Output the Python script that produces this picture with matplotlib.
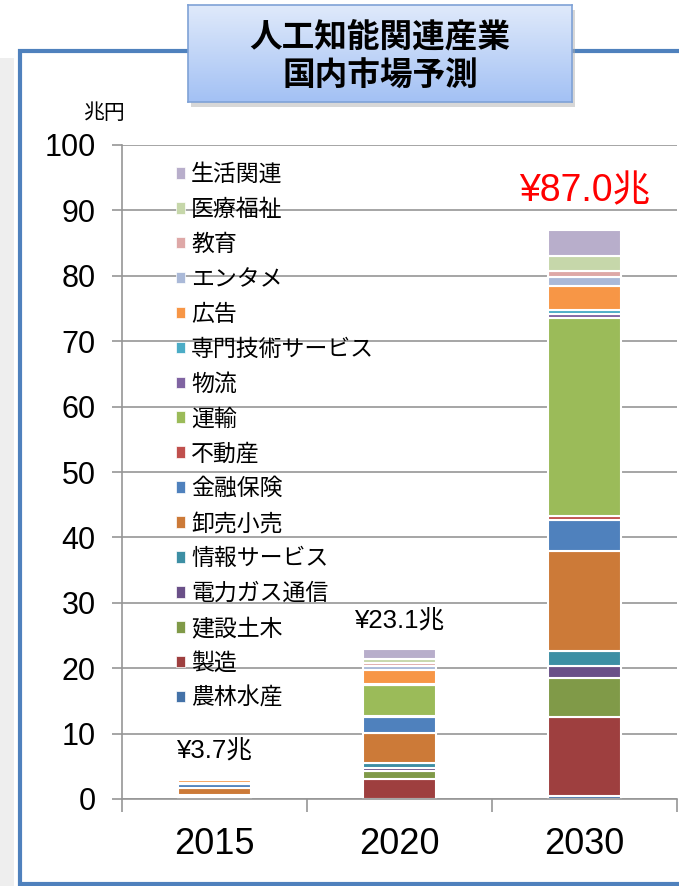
import numpy as np
import matplotlib
matplotlib.use('Agg')
import matplotlib.pyplot as plt
from matplotlib.patches import Patch, Rectangle
from matplotlib.colors import LinearSegmentedColormap

plt.rcParams['font.family'] = ['Liberation Sans', 'Noto Sans CJK JP']

#------------------------------------------------------------------------------
# Data (兆円)
#------------------------------------------------------------------------------
years = ['2015', '2020', '2030']
totals = ['¥3.7兆', '¥23.1兆', '¥87.0兆']
industries = ['農林水産', '製造', '建設土木', '電力ガス通信', '情報サービス',
              '卸売小売', '金融保険', '不動産', '運輸', '物流',
              '専門技術サービス', '広告', 'エンタメ', '教育', '医療福祉', '生活関連']
v2015 = [0.1, 0.25, 0.1, 0.05, 0.1, 1.05, 0.6, 0.05, 0.1, 0.02,
         0.05, 0.4, 0.05, 0.02, 0.05, 0.05]
v2020 = [0.05, 3.0, 1.2, 0.5, 0.8, 4.6, 2.4, 0.1, 4.8, 0.05,
         0.1, 2.1, 0.6, 0.5, 0.6, 1.5]
v2030 = [0.4, 12.2, 5.9, 1.9, 2.3, 15.2, 4.7, 0.6, 30.4, 0.5,
         0.7, 3.6, 1.4, 1.0, 2.2, 4.0]

colors = ['#4472a8', '#9e3f3f', '#809a48', '#6a5088', '#3d8fa4',
          '#cc7a38', '#4f81bd', '#c0504d', '#9bbb59', '#8064a2',
          '#4bacc6', '#f79646', '#aab9d8', '#dea8a7', '#c6d7aa', '#b8aecb']

W, H = 679, 886
fig = plt.figure(figsize=(W / 100, H / 100), dpi=100)

#------------------------------------------------------------------------------
# Background decoration: side shadow and blue frame
#------------------------------------------------------------------------------
fig.patches.append(Rectangle((0, 0), 14 / W, 1 - 58 / H, transform=fig.transFigure,
                             facecolor='#eeeeee', edgecolor='none', zorder=0))
fig.patches.append(Rectangle((20 / W, 2 / H), 1.1, 1 - 53 / H, transform=fig.transFigure,
                             facecolor='white', edgecolor='#4f81bd', linewidth=3, zorder=1))

#------------------------------------------------------------------------------
# Chart
#------------------------------------------------------------------------------
ax = fig.add_axes([122 / W, 1 - 799 / H, 555 / W, 654 / H])
ax.set_zorder(2)
ax.patch.set_alpha(0)
data = np.array([v2015, v2020, v2030])
x = np.arange(len(years))
bottom = np.zeros(len(years))
handles = []
for i, name in enumerate(industries):
    ax.bar(x, data[:, i], 0.39, bottom=bottom, color=colors[i],
           edgecolor='white', linewidth=1.5)
    bottom += data[:, i]
    handles.append(Patch(facecolor=colors[i], edgecolor='white', linewidth=0.5, label=name))

label_size = [18.5, 18.5, 27]
label_color = ['black', 'black', '#ff0000']
label_off = [20, 20, 28]
for i in range(len(years)):
    ax.annotate(totals[i], (x[i], bottom[i]), xytext=(0, label_off[i]),
                textcoords='offset points', ha='center', va='center',
                fontsize=label_size[i], color=label_color[i])

ax.set_xlim(-0.5, 2.5)
ax.set_ylim(0, 100)
ax.set_yticks(np.arange(0, 101, 10))
ax.set_xticks(x)
ax.set_xticklabels(years)
ax.set_xticks([-0.5, 0.5, 1.5, 2.5], minor=True)
ax.tick_params(axis='y', direction='out', length=7, width=1.2, color='#969696',
               labelsize=22, pad=12)
ax.tick_params(axis='x', which='major', length=0, labelsize=26, pad=20)
ax.tick_params(axis='x', which='minor', direction='out', length=9, width=1.2, color='#969696')
ax.set_axisbelow(True)
ax.yaxis.grid(True, color='#969696', linewidth=1.2)
for s in ['top', 'right']:
    ax.spines[s].set_visible(False)
for s in ['left', 'bottom']:
    ax.spines[s].set_color('#969696')
    ax.spines[s].set_linewidth(1.2)

ax.legend(handles[::-1], industries[::-1], loc='upper left', bbox_to_anchor=(0.077, 0.99),
          frameon=False, fontsize=16.5, handlelength=0.4, handleheight=0.4,
          handletextpad=0.25, labelspacing=0.52, borderpad=0)

fig.text(104 / W, 1 - 113 / H, '兆円', fontsize=15, ha='center', va='center')

#------------------------------------------------------------------------------
# Title box with gradient
#------------------------------------------------------------------------------
bx, by, bw, bh = 188, 5, 384, 97
fig.patches.append(Rectangle(((bx + 3) / W, 1 - (by + bh + 5) / H), bw / W, bh / H,
                             transform=fig.transFigure, facecolor='#b0b0b0',
                             edgecolor='none', alpha=0.5, zorder=3))
tax = fig.add_axes([bx / W, 1 - (by + bh) / H, bw / W, bh / H])
tax.set_zorder(4)
cmap = LinearSegmentedColormap.from_list('tb', ['#a3c1f4', '#e0eafb'])
tax.imshow(np.linspace(0, 1, 100).reshape(-1, 1), aspect='auto', cmap=cmap,
           origin='lower', extent=(0, 1, 0, 1))
tax.set_xlim(0, 1)
tax.set_ylim(0, 1)
tax.set_xticks([])
tax.set_yticks([])
for s in tax.spines.values():
    s.set_color('#7fa2d6')
    s.set_linewidth(1.2)
tax.text(0.5, 0.67, '人工知能関連産業', ha='center', va='center', fontsize=23.5,
         fontweight='bold', family=['Noto Sans CJK JP'])
tax.text(0.5, 0.27, '国内市場予測', ha='center', va='center', fontsize=23.5,
         fontweight='bold', family=['Noto Sans CJK JP'])

fig.savefig('out.png', dpi=100)
